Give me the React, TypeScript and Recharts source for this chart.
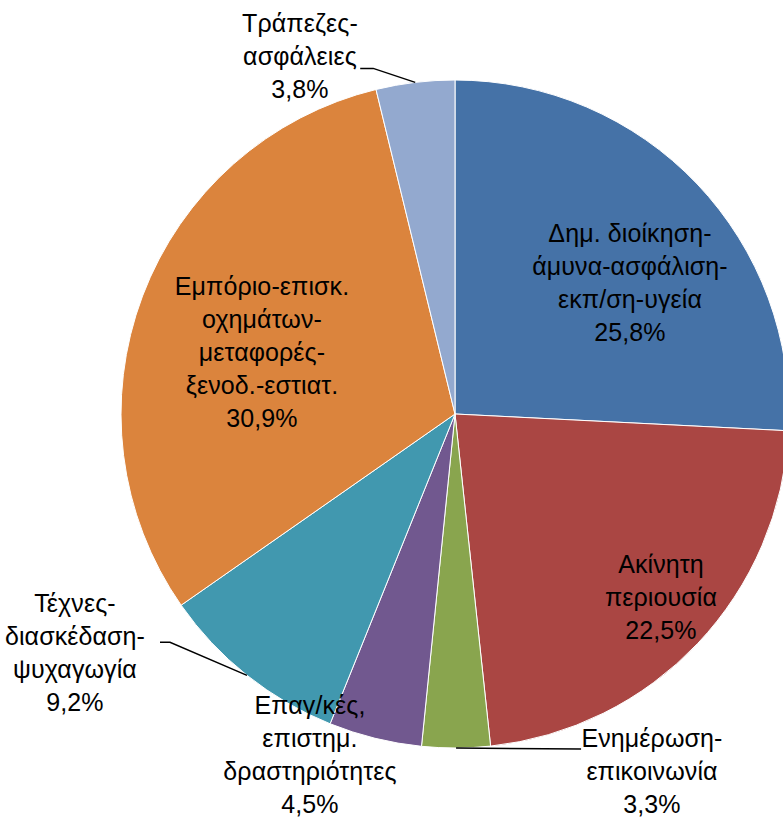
import { PieChart, Pie, Cell } from "recharts"

const SECTORS = [
  "Δημ. διοίκηση-άμυνα-ασφάλιση-εκπ/ση-υγεία",
  "Ακίνητη περιουσία",
  "Ενημέρωση-επικοινωνία",
  "Επαγ/κές, επιστημ. δραστηριότητες",
  "Τέχνες-διασκέδαση-ψυχαγωγία",
  "Εμπόριο-επισκ. οχημάτων-μεταφορές-ξενοδ.-εστιατ.",
  "Τράπεζες-ασφάλειες",
]
const SHARES = [25.8, 22.5, 3.3, 4.5, 9.2, 30.9, 3.8]
const LABEL_LINES = [
  ["Δημ. διοίκηση-", "άμυνα-ασφάλιση-", "εκπ/ση-υγεία"],
  ["Ακίνητη", "περιουσία"],
  ["Ενημέρωση-", "επικοινωνία"],
  ["Επαγ/κές,", "επιστημ.", "δραστηριότητες"],
  ["Τέχνες-", "διασκέδαση-", "ψυχαγωγία"],
  ["Εμπόριο-επισκ.", "οχημάτων-", "μεταφορές-", "ξενοδ.-εστιατ."],
  ["Τράπεζες-", "ασφάλειες"],
]
const COLORS = ["#4572A7", "#AA4643", "#89A54E", "#71588F", "#4198AF", "#DB843D", "#93A9CF"]

// label placement: first-line baseline offset from the pie centre,
// plus optional leader line points relative to the arc point
const LABEL_POS: { dx: number; dy: number; leader?: [number, number][] }[] = [
  { dx: 175, dy: -172 },
  { dx: 206, dy: 159 },
  { dx: 197, dy: 333, leader: [[125, 1]] },
  { dx: -145, dy: 300 },
  { dx: -380, dy: 198, leader: [[-77, -33], [-87, -33]] },
  { dx: -193, dy: -119 },
  { dx: -155, dy: -382, leader: [[-42, -14], [-55, -14]] },
]

const data = SECTORS.map((name, i) => ({ name, value: SHARES[i] }))
const RADIAN = Math.PI / 180
const LINE_H = 33

function renderLabel(props: any) {
  const { cx, cy, midAngle, outerRadius, index } = props
  const pos = LABEL_POS[index]
  const ax = cx + Math.cos(-midAngle * RADIAN) * outerRadius
  const ay = cy + Math.sin(-midAngle * RADIAN) * outerRadius
  const lines = [...LABEL_LINES[index], SHARES[index].toFixed(1).replace(".", ",") + "%"]
  const x = cx + pos.dx
  const y = cy + pos.dy
  return (
    <g key={`lbl-${index}`}>
      {pos.leader && (
        <polyline
          points={[[0, 0], ...pos.leader].map(([px, py]) => `${ax + px},${ay + py}`).join(" ")}
          fill="none"
          stroke="#000"
          strokeWidth={1.5}
        />
      )}
      <text
        x={x}
        y={y}
        textAnchor="middle"
        fill="#000"
        fontSize={25}
        letterSpacing={0.1}
        fontFamily="'Liberation Sans', Arial, sans-serif"
      >
        {lines.map((l, i) => (
          <tspan key={i} x={x} y={y + i * LINE_H}>{l}</tspan>
        ))}
      </text>
    </g>
  )
}

export default function App() {
  return (
    <div style={{ position: "absolute", left: 0, top: 0, width: 783, height: 818, background: "#fff" }}>
      <PieChart width={783} height={818} margin={{ top: 0, right: 0, bottom: 0, left: 0 }}>
        <Pie
          data={data}
          dataKey="value"
          nameKey="name"
          cx={455}
          cy={414}
          outerRadius={334}
          startAngle={90}
          endAngle={-270}
          stroke="#fff"
          strokeWidth={1}
          label={renderLabel}
          labelLine={false}
          isAnimationActive={false}
        >
          {data.map((d, i) => (
            <Cell key={d.name} fill={COLORS[i]} />
          ))}
        </Pie>
      </PieChart>
    </div>
  )
}
